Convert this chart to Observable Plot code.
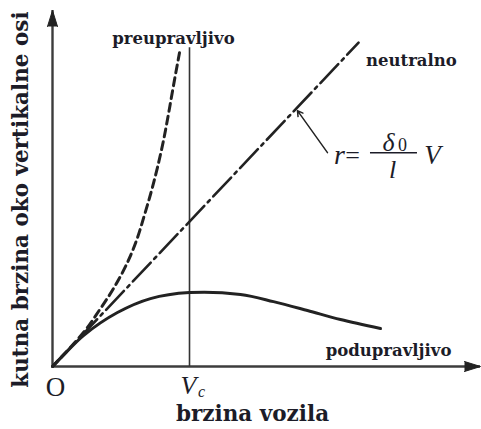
<!DOCTYPE html>
<html>
<head>
<meta charset="utf-8">
<script src="https://cdn.jsdelivr.net/npm/d3@7"></script>
<script src="https://cdn.jsdelivr.net/npm/@observablehq/plot@0.6"></script>
<style>
  html, body { margin: 0; padding: 0; background: #fff; }
</style>
</head>
<body>
<div id="chart"></div>
<script>
// ---- data (speed in units of Vc, yaw rate in same scaled units) ----
const speedOver = [0, 0.226, 0.350, 0.445, 0.540, 0.613, 0.672, 0.723, 0.766, 0.810, 0.847, 0.883, 0.927];
const rateOver  = [0, 0.248, 0.423, 0.569, 0.745, 0.920, 1.109, 1.285, 1.453, 1.650, 1.847, 2.051, 2.292];

const speedNeutral = [0, 2.234];
const rateNeutral  = [0, 2.365];

const speedUnder = [0, 0.1, 0.226, 0.474, 0.715, 1.0, 1.372, 1.613, 1.861, 2.102, 2.394];
const rateUnder  = [0, 0.103, 0.226, 0.394, 0.496, 0.540, 0.526, 0.474, 0.409, 0.343, 0.277];

const Vc = 1;
const VcTop = 2.328;
const xMax = 3.124;
const yMax = 2.6;

const curveNames = ["preupravljivo", "neutralno", "podupravljivo"];
const curveLabelX = [0.883, 2.620, 2.453];
const curveLabelY = [2.394, 2.234, 0.117];

const xTitle = "brzina vozila";
const yTitle = "kutna brzina oko vertikalne osi";

// ---- tables ----
const over = speedOver.map((v, i) => ({v, r: rateOver[i]}));
const neutral = speedNeutral.map((v, i) => ({v, r: rateNeutral[i]}));
const under = speedUnder.map((v, i) => ({v, r: rateUnder[i]}));
const labels = curveNames.map((t, i) => ({t, x: curveLabelX[i], y: curveLabelY[i]}));

const ink = "#1c1c28";
const lineInk = "#222";
const serif = "'Liberation Serif', 'Times New Roman', serif";
const bold = "'DejaVu Serif', 'Liberation Serif', serif";

const chart = Plot.plot({
  width: 481,
  height: 429,
  marginLeft: 52,
  marginRight: 1,
  marginTop: 10,
  marginBottom: 63,
  x: {domain: [0, xMax], axis: null},
  y: {domain: [0, yMax], axis: null},
  style: {background: "#fff", fontFamily: serif, color: ink},
  marks: [
    // axes
    Plot.ruleY([0], {x1: 0, x2: xMax, stroke: "#3c3c3c", strokeWidth: 2.4}),
    Plot.ruleX([0], {y1: 0, y2: yMax, stroke: "#3c3c3c", strokeWidth: 2.4}),
    Plot.vector([0], {x: xMax, y: 0, rotate: 90, length: 16, r: 5, shape: "spike", anchor: "end", fill: "#222", stroke: "#222", strokeWidth: 1}),
    Plot.vector([0], {x: 0, y: yMax, rotate: 0, length: 16, r: 5, shape: "spike", anchor: "end", fill: "#222", stroke: "#222", strokeWidth: 1}),
    // Vc vertical
    Plot.ruleX([Vc], {y1: 0, y2: VcTop, stroke: "#333", strokeWidth: 1.6}),
    // curves
    Plot.line(neutral, {x: "v", y: "r", stroke: lineInk, strokeWidth: 2.6, strokeDasharray: "26,5,3,5"}),
    Plot.line(over, {x: "v", y: "r", stroke: lineInk, strokeWidth: 3, strokeDasharray: "8,5", curve: "catmull-rom"}),
    Plot.line(under, {x: "v", y: "r", stroke: lineInk, strokeWidth: 3, curve: "catmull-rom"}),
    // curve labels
    Plot.text(labels, {x: "x", y: "y", text: "t", fontSize: 16.5, fontWeight: "bold", fill: ink, fontFamily: bold}),
    // formula leader
    Plot.arrow([0], {x1: 2.007, y1: 1.562, x2: 1.788, y2: 1.869, stroke: "#222", strokeWidth: 1.5, headLength: 6}),
    // formula r = δ0 / l · V
    Plot.text(["r"], {x: 2.095, y: 1.542, text: d => d, fontSize: 28, fontStyle: "italic", fill: ink, fontFamily: serif}),
    Plot.text(["="], {x: 2.190, y: 1.542, text: d => d, fontSize: 26, fill: ink, fontFamily: serif}),
    Plot.text(["δ"], {x: 2.453, y: 1.637, text: d => d, fontSize: 26, fontStyle: "italic", fill: ink, fontFamily: serif}),
    Plot.text(["0"], {x: 2.555, y: 1.619, text: d => d, fontSize: 18, fill: ink, fontFamily: serif}),
    Plot.ruleY([1.562], {x1: 2.321, x2: 2.664, stroke: ink, strokeWidth: 1.5}),
    Plot.text(["l"], {x: 2.482, y: 1.440, text: d => d, fontSize: 26, fontStyle: "italic", fill: ink, fontFamily: serif}),
    Plot.text(["V"], {x: 2.774, y: 1.542, text: d => d, fontSize: 27, fontStyle: "italic", fill: ink, fontFamily: serif}),
    // origin and Vc tick labels
    Plot.text(["O"], {x: 0.022, y: -0.151, text: d => d, fontSize: 27, fill: ink, fontFamily: serif}),
    Plot.text(["V"], {x: 0.993, y: -0.137, text: d => d, fontSize: 26, fontStyle: "italic", fill: ink, fontFamily: serif}),
    Plot.text(["c"], {x: 1.088, y: -0.182, text: d => d, fontSize: 16, fontStyle: "italic", fill: ink, fontFamily: serif}),
    // axis titles
    Plot.text([xTitle], {x: 1.460, y: -0.345, text: d => d, fontSize: 21.5, fontWeight: "bold", fill: ink, fontFamily: bold}),
    Plot.text([yTitle], {x: -0.226, y: 1.219, text: d => d, fontSize: 21.5, fontWeight: "bold", rotate: -90, fill: ink, fontFamily: bold})
  ]
});
document.getElementById("chart").appendChild(chart);
</script>
</body>
</html>
